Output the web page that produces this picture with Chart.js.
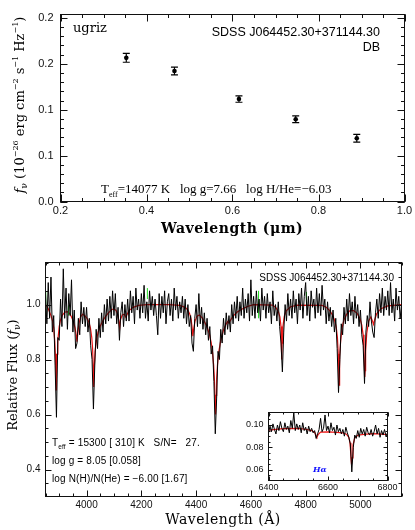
<!DOCTYPE html>
<html>
<head>
<meta charset="utf-8">
<script src="https://cdn.jsdelivr.net/npm/chart.js@4.4.0/dist/chart.umd.min.js"></script>
<style>
    html, body { margin: 0; padding: 0; background: #fff; }
    #wrap { position: relative; width: 415px; height: 530px; overflow: hidden; }
    canvas { position: absolute; }
    .t { position: absolute; white-space: nowrap; color: #000; line-height: 1; }
    .serif { font-family: "DejaVu Serif", serif; }
    .times { font-family: "Liberation Serif", serif; }
    .sans { font-family: "Liberation Sans", sans-serif; }
    .rot { transform: translate(-50%, -50%) rotate(-90deg); }
    sup, sub { line-height: 0; }
</style>
</head>
<body>
<div id="wrap">
    <canvas id="photCanvas" width="415" height="240" style="left:0;top:0"></canvas>
    <canvas id="specCanvas" width="415" height="280" style="left:0;top:250px"></canvas>
    <canvas id="insetCanvas" width="170" height="88" style="left:236px;top:405px"></canvas>

    <!-- top panel texts -->
    <div class="t serif rot" style="left:19px;top:105px;font-size:13px"><i>f</i><sub style="font-size:9px">ν</sub> (10<sup style="font-size:8px">−26</sup> erg cm<sup style="font-size:8px">−2</sup> s<sup style="font-size:8px">−1</sup> Hz<sup style="font-size:8px">−1</sup>)</div>
    <div class="t serif" style="left:232px;top:228px;transform:translate(-50%,-50%);font-size:14px;font-weight:bold;letter-spacing:0.5px">Wavelength (μm)</div>
    <div class="t serif" style="left:73px;top:21px;font-size:13px">ugriz</div>
    <div class="t sans" style="right:35px;top:25px;font-size:12.5px;text-align:right;line-height:15px">SDSS J064452.30+371144.30<br>DB</div>
    <div class="t times" style="left:101px;top:182px;font-size:13px">T<sub style="font-size:8px">eff</sub>=14077 K&nbsp;&nbsp;&nbsp;log g=7.66&nbsp;&nbsp;&nbsp;log H/He=−6.03</div>

    <!-- bottom panel texts -->
    <div class="t serif rot" style="left:12px;top:375px;font-size:13px">Relative Flux (<i>f</i><sub style="font-size:9px">ν</sub>)</div>
    <div class="t serif" style="left:223px;top:519px;transform:translate(-50%,-50%);font-size:14px;letter-spacing:0.5px">Wavelength (Å)</div>
    <div class="t sans" style="right:21px;top:273px;font-size:10px;text-align:right">SDSS J064452.30+371144.30</div>
    <div class="t sans" style="left:52px;top:438px;font-size:10px;letter-spacing:0.15px">T<sub style="font-size:6.5px">eff</sub> = 15300 [ 310] K&nbsp;&nbsp;&nbsp;S/N=&nbsp;&nbsp;&nbsp;27.</div>
    <div class="t sans" style="left:52px;top:456px;font-size:10px;letter-spacing:0.15px">log g = 8.05 [0.058]</div>
    <div class="t sans" style="left:52px;top:474px;font-size:10px;letter-spacing:0.15px">log N(H)/N(He) = −6.00 [1.67]</div>
    <div class="t serif" style="left:313px;top:465px;font-size:8px;font-weight:bold;font-style:italic;color:#1010ff">Hα</div>
</div>

<script>
// ---- Photometry (top panel) ----
const bandWave = [0.353, 0.465, 0.615, 0.747, 0.889];
const bandFlux = [0.1565, 0.1421, 0.1116, 0.0896, 0.0689];
const bandErr  = [0.0048, 0.0042, 0.0035, 0.0036, 0.0042];
const photXTicks = [0.2, 0.4, 0.6, 0.8, 1.0];
const photXLabels = ["0.2", "0.4", "0.6", "0.8", "1.0"];
const photYTicks = [0, 0.05, 0.10, 0.15, 0.20];
const photYLabels = ["0.0", "0.1", "0.1", "0.2", "0.2"];

// ---- Spectrum (bottom panel), 5 A sampling from 3850 A ----
const specStart = 3850;
const specStep = 5;
const specFlux = [
    1.04, 0.93, 1.08, 0.95, 1.10, 0.90, 0.96, 0.78, 0.59, 0.88,
    0.87, 1.02, 0.92, 1.13, 0.95, 1.06, 0.91, 1.04, 0.96, 1.09,
    0.90, 0.98, 0.84, 0.86, 0.95, 0.89, 1.01, 0.93, 0.99, 0.92,
    0.99, 0.90, 0.95, 0.85, 0.80, 0.62, 0.78, 0.91, 0.84, 0.95,
    0.88, 0.97, 0.90, 1.00, 0.93, 1.02, 0.94, 1.03, 0.95, 1.05,
    0.96, 1.04, 0.93, 0.99, 0.87, 0.97, 1.01, 0.92, 1.00, 0.94,
    1.02, 0.94, 1.05, 0.97, 1.03, 0.93, 1.06, 0.98, 1.02, 0.95,
    1.04, 0.97, 1.07, 0.95, 1.01, 0.94, 1.05, 0.98, 1.03, 0.96,
    1.02, 0.96, 0.89, 1.04, 0.95, 1.03, 0.97, 1.05, 0.93, 1.01,
    1.04, 0.96, 1.02, 0.94, 1.06, 0.98, 1.03, 0.95, 1.01, 0.97,
    1.03, 0.95, 1.02, 0.93, 1.00, 0.92, 0.96, 0.86, 0.83, 0.95,
    1.00, 0.92, 1.04, 0.93, 0.99, 0.91, 0.97, 0.89, 0.95, 0.87,
    0.92, 0.82, 0.85, 0.72, 0.53, 0.66, 0.83, 0.80, 0.91, 0.86,
    0.95, 0.89, 0.97, 0.91, 0.96, 0.90, 1.00, 0.93, 1.01, 0.95,
    1.03, 0.94, 1.01, 0.96, 1.06, 0.95, 1.02, 0.97, 1.04, 0.94,
    1.09, 0.96, 1.03, 0.95, 1.05, 0.97, 1.02, 0.94, 1.06, 0.98,
    1.03, 0.95, 1.04, 0.97, 1.01, 0.93, 1.05, 0.96, 1.00, 0.94,
    1.01, 0.92, 0.86, 0.755, 0.90, 1.00, 0.94, 1.04, 0.96, 1.02,
    0.95, 1.05, 0.97, 1.02, 0.93, 1.04, 0.98, 1.06, 0.95, 1.03,
    1.08, 0.96, 1.03, 0.94, 1.05, 0.99, 1.02, 0.95, 1.06, 0.97,
    1.04, 0.96, 1.07, 0.98, 1.02, 0.93, 1.01, 0.94, 0.99, 0.92,
    0.98, 0.90, 0.95, 0.84, 0.68, 0.80, 0.93, 0.89, 0.99, 0.93,
    1.02, 0.94, 1.04, 0.96, 1.01, 0.93, 1.03, 0.95, 1.00, 0.92,
    0.98, 0.89, 0.85, 0.713, 0.90, 0.96, 0.92, 1.01, 0.94, 0.90,
    0.88, 0.97, 1.02, 0.95, 1.04, 0.97, 1.06, 0.96, 1.03, 0.98,
    1.05, 0.96, 1.08, 0.97, 1.02, 0.94, 1.06, 0.98, 1.03, 0.95, 1.00
];

// model fit (red)
const modelWave = [
    3850, 3860, 3870, 3876, 3880, 3884, 3886, 3888, 3889, 3890, 3892, 3895, 3900, 3905, 3912, 3920,
    3930, 3938, 3945, 3952, 3958, 3962, 3965, 3968, 3972, 3978, 3985, 3993, 4000, 4008, 4014, 4019,
    4022, 4024, 4026, 4028, 4031, 4036, 4042, 4050, 4060, 4070, 4080, 4090, 4100, 4108, 4114, 4118,
    4121, 4124, 4130, 4138, 4143, 4147, 4155, 4170, 4190, 4220, 4300, 4340, 4360, 4370, 4377, 4382,
    4386, 4388, 4391, 4396, 4403, 4412, 4422, 4432, 4440, 4448, 4455, 4460, 4464, 4467, 4469, 4471,
    4473, 4475, 4478, 4483, 4490, 4500, 4510, 4515, 4520, 4525, 4535, 4550, 4570, 4590, 4610, 4680,
    4692, 4700, 4706, 4710, 4712, 4713, 4714, 4717, 4722, 4730, 4745, 4770, 4860, 4875, 4888, 4898,
    4906, 4912, 4916, 4919, 4921, 4922, 4923, 4925, 4928, 4933, 4940, 4950, 4962, 4975, 4988, 4998,
    5005, 5010, 5013, 5015, 5016, 5017, 5019, 5023, 5030, 5038, 5044, 5048, 5052, 5060, 5075, 5100,
    5150
];
const modelFlux = [
    1.000, 0.985, 0.960, 0.940, 0.915, 0.865, 0.820, 0.740, 0.690, 0.730, 0.820, 0.870, 0.920, 0.945, 0.962, 0.972,
    0.974, 0.968, 0.955, 0.938, 0.915, 0.890, 0.865, 0.895, 0.930, 0.955, 0.965, 0.960, 0.952, 0.938, 0.915, 0.880,
    0.840, 0.780, 0.700, 0.770, 0.830, 0.870, 0.900, 0.922, 0.942, 0.958, 0.970, 0.980, 0.985, 0.978, 0.962, 0.940,
    0.915, 0.945, 0.962, 0.965, 0.955, 0.962, 0.978, 0.990, 0.997, 1.000, 1.000, 0.997, 0.990, 0.980, 0.965, 0.945,
    0.910, 0.885, 0.910, 0.940, 0.958, 0.962, 0.952, 0.935, 0.918, 0.895, 0.862, 0.825, 0.780, 0.725, 0.670, 0.600,
    0.670, 0.730, 0.780, 0.830, 0.870, 0.908, 0.930, 0.938, 0.932, 0.942, 0.958, 0.973, 0.985, 0.994, 1.000, 0.998,
    0.988, 0.975, 0.955, 0.920, 0.870, 0.800, 0.860, 0.920, 0.958, 0.978, 0.992, 0.998, 0.997, 0.990, 0.978, 0.962,
    0.942, 0.915, 0.880, 0.820, 0.740, 0.707, 0.740, 0.810, 0.870, 0.915, 0.945, 0.965, 0.978, 0.978, 0.968, 0.950,
    0.925, 0.890, 0.830, 0.760, 0.737, 0.760, 0.830, 0.895, 0.940, 0.955, 0.940, 0.928, 0.945, 0.968, 0.985, 0.995,
    1.000
];

// masked pixels (green)
const maskWave = [3851, 3934, 4222, 4628, 4803];
const maskLow  = [0.955, 0.960, 1.020, 0.950, 0.997];
const maskHigh = [1.046, 0.997, 1.060, 1.050, 1.046];

const specXTicks = [4000, 4200, 4400, 4600, 4800, 5000];
const specYTicks = [0.4, 0.6, 0.8, 1.0];
const specYLabels = ["0.4", "0.6", "0.8", "1.0"];

// ---- H-alpha inset, 5 A sampling from 6400 A ----
const haStart = 6400;
const haStep = 5;
const haFlux = [
    0.093, 0.099, 0.094, 0.101, 0.096, 0.092, 0.100, 0.095, 0.103, 0.097,
    0.094, 0.102, 0.096, 0.099, 0.093, 0.104, 0.097, 0.111, 0.095, 0.101,
    0.096, 0.100, 0.093, 0.102, 0.095, 0.098, 0.092, 0.099, 0.094, 0.097,
    0.093, 0.095, 0.088, 0.092, 0.096, 0.106, 0.094, 0.097, 0.109, 0.095,
    0.099, 0.093, 0.102, 0.095, 0.098, 0.091, 0.100, 0.094, 0.097, 0.092,
    0.096, 0.090, 0.098, 0.093, 0.089, 0.083, 0.058, 0.080, 0.091, 0.088,
    0.095, 0.089, 0.097, 0.092, 0.096, 0.090, 0.098, 0.093, 0.091, 0.096,
    0.090, 0.094, 0.100, 0.092, 0.097, 0.089, 0.095, 0.091, 0.096, 0.090,
    0.093
];
const haModelWave = [6400, 6450, 6500, 6530, 6545, 6555, 6560, 6563, 6567, 6575, 6600, 6630, 6650, 6662,
    6670, 6674, 6677, 6679, 6681, 6684, 6690, 6700, 6720, 6750, 6780, 6800];
const haModelFlux = [0.0954, 0.0968, 0.0970, 0.0960, 0.0950, 0.0935, 0.0905, 0.0892, 0.0915, 0.0936, 0.0938, 0.0934, 0.0930, 0.0918,
    0.0890, 0.0840, 0.0725, 0.0646, 0.0705, 0.0820, 0.0885, 0.0908, 0.0916, 0.0922, 0.0918, 0.0914];
const haXTicks = [6400, 6600, 6800];
const haYTicks = [0.06, 0.08, 0.10];
const haYLabels = ["0.06", "0.08", "0.10"];

// Frame with inward ticks on all four sides (PGPLOT style box)
const framePlugin = {
    id: "frame",
    afterDraw(chart, args, o) {
        const { ctx, chartArea: a, scales } = chart;
        const xs = scales.x, ys = scales.y;
        ctx.save();
        ctx.strokeStyle = "#111";
        ctx.lineWidth = 1;
        ctx.strokeRect(a.left, a.top, a.right - a.left, a.bottom - a.top);
        ctx.beginPath();
        const xTick = (v, len) => {
            const px = Math.round(xs.getPixelForValue(v)) + 0.5;
            ctx.moveTo(px, a.bottom); ctx.lineTo(px, a.bottom - len);
            ctx.moveTo(px, a.top); ctx.lineTo(px, a.top + len);
        };
        const yTick = (v, len) => {
            const py = Math.round(ys.getPixelForValue(v)) + 0.5;
            ctx.moveTo(a.left, py); ctx.lineTo(a.left + len, py);
            ctx.moveTo(a.right, py); ctx.lineTo(a.right - len, py);
        };
        for (let v = o.xMinorFrom; v <= xs.max + 1e-9; v += o.xMinor) xTick(v, o.minorLen);
        for (let v = o.yMinorFrom; v <= ys.max + 1e-9; v += o.yMinor) yTick(v, o.minorLen);
        o.xMajor.forEach(v => xTick(v, o.majorLen));
        o.yMajor.forEach(v => yTick(v, o.majorLen));
        ctx.stroke();
        ctx.restore();
    }
};

// Vertical error bars with caps for the photometry
const errorBarPlugin = {
    id: "errorBars",
    afterDatasetsDraw(chart) {
        const { ctx, scales: { x, y } } = chart;
        ctx.save();
        ctx.strokeStyle = "#000";
        ctx.lineWidth = 1.2;
        ctx.beginPath();
        bandWave.forEach((w, i) => {
            const px = x.getPixelForValue(w);
            const top = y.getPixelForValue(bandFlux[i] + bandErr[i]);
            const bot = y.getPixelForValue(bandFlux[i] - bandErr[i]);
            ctx.moveTo(px, top); ctx.lineTo(px, bot);
            ctx.moveTo(px - 3.5, top); ctx.lineTo(px + 3.5, top);
            ctx.moveTo(px - 3.5, bot); ctx.lineTo(px + 3.5, bot);
        });
        ctx.stroke();
        ctx.restore();
    }
};

function fixedAxis(type, size, tickVals, labels, font, pad, min, max) {
    return {
        type: "linear",
        min: min,
        max: max,
        grid: { display: false, drawTicks: false },
        border: { display: false },
        ticks: {
            autoSkip: false,
            maxRotation: 0,
            padding: pad,
            color: "#111",
            font: font,
            callback: (v, i) => labels[i]
        },
        afterBuildTicks: s => { s.ticks = tickVals.map(v => ({ value: v })); },
        afterFit: s => {
            if (type === "x") s.height = size; else s.width = size;
            s.paddingLeft = 0; s.paddingRight = 0; s.paddingTop = 0; s.paddingBottom = 0;
        }
    };
}

const baseOptions = {
    responsive: false,
    animation: false,
    devicePixelRatio: 1,
    plugins: { legend: { display: false }, tooltip: { enabled: false } }
};

// Top: ugriz photometry
new Chart(document.getElementById("photCanvas"), {
    type: "scatter",
    data: {
        datasets: [{
            data: bandWave.map((w, i) => ({ x: w, y: bandFlux[i] })),
            pointRadius: 2.3,
            pointBackgroundColor: "#000",
            pointBorderWidth: 0
        }]
    },
    options: {
        ...baseOptions,
        layout: { padding: { top: 14.5, right: 10.5, left: 0, bottom: 0 } },
        scales: {
            x: fixedAxis("x", 38.5, photXTicks, photXLabels, { family: "Liberation Sans", size: 11 }, 3, 0.2, 1.0),
            y: fixedAxis("y", 60.5, photYTicks, photYLabels, { family: "Liberation Sans", size: 11 }, 7, 0, 0.2037)
        },
        plugins: {
            ...baseOptions.plugins,
            frame: { xMajor: photXTicks, yMajor: photYTicks, xMinorFrom: 0.2, xMinor: 0.05, yMinorFrom: 0, yMinor: 0.01, majorLen: 7, minorLen: 3.5 }
        }
    },
    plugins: [framePlugin, errorBarPlugin]
});

// Bottom: optical spectrum with model
const maskData = [];
maskWave.forEach((w, i) => {
    maskData.push({ x: w, y: maskLow[i] }, { x: w, y: maskHigh[i] }, { x: w, y: null });
});

new Chart(document.getElementById("specCanvas"), {
    type: "scatter",
    data: {
        datasets: [
            {
                data: specFlux.map((f, i) => ({ x: specStart + i * specStep, y: f })),
                showLine: true, borderColor: "#000", borderWidth: 1, pointRadius: 0
            },
            {
                data: maskData,
                showLine: true, spanGaps: false, borderColor: "#22dd22", borderWidth: 1, pointRadius: 0
            },
            {
                data: modelWave.map((w, i) => ({ x: w, y: modelFlux[i] })),
                showLine: true, borderColor: "rgb(235,20,20)", borderWidth: 1.2, pointRadius: 0
            }
        ]
    },
    options: {
        ...baseOptions,
        layout: { padding: { top: 12.5, right: 13.5, left: 0, bottom: 0 } },
        scales: {
            x: fixedAxis("x", 33.5, specXTicks, specXTicks.map(String), { family: "Liberation Sans", size: 10 }, 3, 3850, 5150),
            y: fixedAxis("y", 45.5, specYTicks, specYLabels, { family: "Liberation Sans", size: 10 }, 5, 0.302, 1.153)
        },
        plugins: {
            ...baseOptions.plugins,
            frame: { xMajor: specXTicks, yMajor: specYTicks, xMinorFrom: 3850, xMinor: 50, yMinorFrom: 0.35, yMinor: 0.05, majorLen: 6, minorLen: 3 }
        }
    },
    plugins: [framePlugin]
});

// Inset: H-alpha region
new Chart(document.getElementById("insetCanvas"), {
    type: "scatter",
    data: {
        datasets: [
            {
                data: haFlux.map((f, i) => ({ x: haStart + i * haStep, y: f })),
                showLine: true, borderColor: "#000", borderWidth: 1, pointRadius: 0
            },
            {
                data: haModelWave.map((w, i) => ({ x: w, y: haModelFlux[i] })),
                showLine: true, borderColor: "rgb(235,20,20)", borderWidth: 1.2, pointRadius: 0
            }
        ]
    },
    options: {
        ...baseOptions,
        layout: { padding: { top: 7.5, right: 18.5, left: 0, bottom: 0 } },
        scales: {
            x: fixedAxis("x", 12.5, haXTicks, haXTicks.map(String), { family: "Liberation Sans", size: 9 }, 2, 6400, 6800),
            y: fixedAxis("y", 32.5, haYTicks, haYLabels, { family: "Liberation Sans", size: 9 }, 5, 0.0503, 0.1112)
        },
        plugins: {
            ...baseOptions.plugins,
            frame: { xMajor: haXTicks, yMajor: haYTicks, xMinorFrom: 6400, xMinor: 50, yMinorFrom: 0.055, yMinor: 0.005, majorLen: 4, minorLen: 2 }
        }
    },
    plugins: [framePlugin]
});
</script>
</body>
</html>
